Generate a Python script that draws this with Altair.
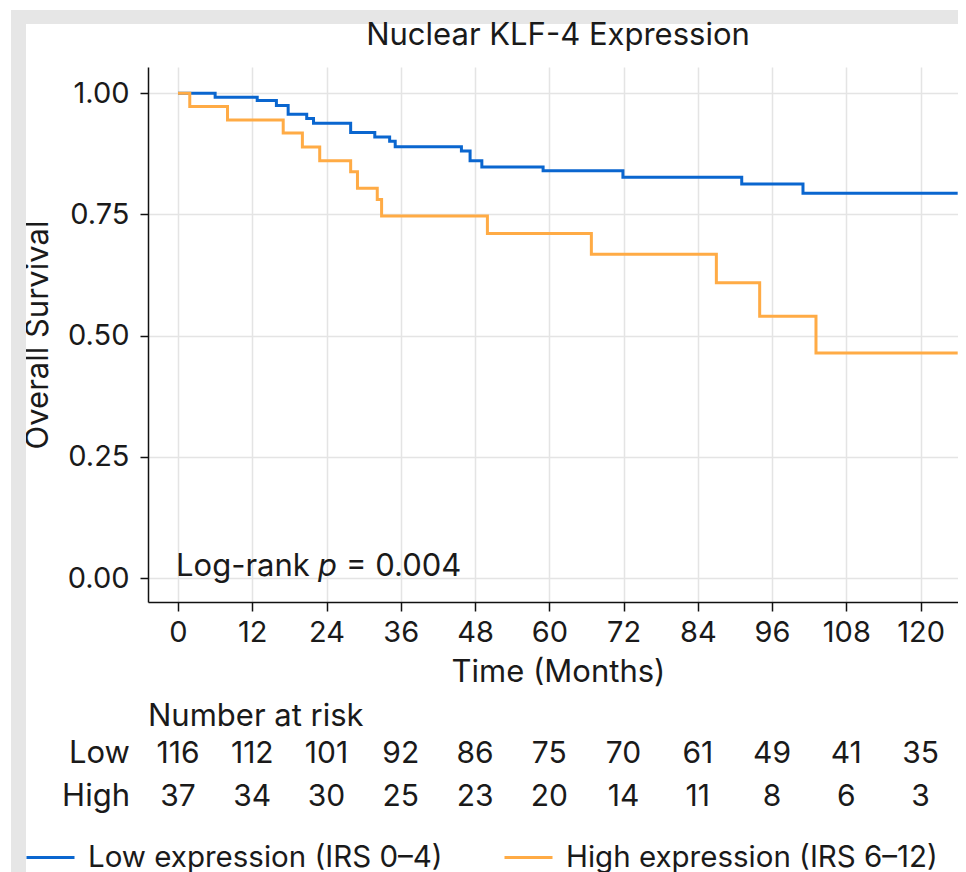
import altair as alt
import pandas as pd

# ---------------- data ----------------
low_label = "Low expression (IRS 0–4)"
high_label = "High expression (IRS 6–12)"

low_time = [0, 6.0, 12.8, 15.9, 17.8, 20.8, 21.9, 27.9, 31.8, 34.2, 35.1, 45.8, 47.2, 49.1, 59.0, 71.9, 91.1, 101.0, 126.0]
low_surv = [1.0, 0.992, 0.985, 0.975, 0.957, 0.948, 0.938, 0.919, 0.910, 0.901, 0.890, 0.881, 0.861, 0.848, 0.840, 0.827, 0.813, 0.794, 0.794]

high_time = [0, 1.9, 8.0, 17.0, 20.1, 22.9, 27.9, 29.0, 32.2, 32.9, 50.0, 66.8, 87.0, 94.0, 103.1, 126.0]
high_surv = [1.0, 0.973, 0.945, 0.918, 0.889, 0.861, 0.838, 0.804, 0.781, 0.747, 0.711, 0.668, 0.609, 0.540, 0.464, 0.464]

risk_time = [0, 12, 24, 36, 48, 60, 72, 84, 96, 108, 120]
risk_low = [116, 112, 101, 92, 86, 75, 70, 61, 49, 41, 35]
risk_high = [37, 34, 30, 25, 23, 20, 14, 11, 8, 6, 3]

y_ticks = [0, 0.25, 0.5, 0.75, 1.0]
title_text = "Nuclear KLF-4 Expression"
p_value = "0.004"

# ---------------- style ----------------
FONT = "Inter"
FS = 31
TICK_FS = 29
TXT = "#1a1a1a"
BLUE = "#0a66cf"
ORANGE = "#ffab45"
W, H = 810, 535

low_df = pd.DataFrame({"time": low_time, "surv": low_surv, "group": low_label})
high_df = pd.DataFrame({"time": high_time, "surv": high_surv, "group": high_label})
risk_low_df = pd.DataFrame({"time": risk_time, "n": risk_low})
risk_high_df = pd.DataFrame({"time": risk_time, "n": risk_high})
one = alt.Data(values=[{"a": 1}])

xscale = alt.Scale(domain=[-4.85, 126.05], nice=False, zero=False)
yscale = alt.Scale(domain=[-0.0495, 1.0543], nice=False, zero=False)

xaxis = alt.Axis(values=risk_time, title="Time (Months)", grid=True, gridColor="#e4e4e4", gridWidth=1.5,
                 domainColor="#111", domainWidth=1.5, tickColor="#111", tickWidth=1.5, tickSize=9,
                 labelPadding=7, labelFont=FONT, labelFontSize=TICK_FS, labelColor=TXT,
                 titleFont=FONT, titleFontSize=FS, titleFontWeight="normal", titleColor=TXT,
                 titleX=410, titleY=70, titleBaseline="middle", labelFlush=False)
yaxis = alt.Axis(values=y_ticks, format=".2f", title="Overall Survival", grid=True, gridColor="#e4e4e4", gridWidth=1.5,
                 domainColor="#111", domainWidth=1.5, tickColor="#111", tickWidth=1.5, tickSize=8,
                 labelPadding=11, labelFont=FONT, labelFontSize=TICK_FS, labelColor=TXT,
                 titleFont=FONT, titleFontSize=FS, titleFontWeight="normal", titleColor=TXT,
                 titleX=-110, titleY=H / 2, titleBaseline="middle", labelFlush=False)

color = alt.Color("group:N",
                  scale=alt.Scale(domain=[low_label, high_label], range=[BLUE, ORANGE]),
                  legend=alt.Legend(title=None, orient="none", direction="horizontal",
                                    legendX=-123, legendY=765, symbolType="stroke",
                                    symbolSize=2304, symbolStrokeWidth=3, labelOffset=12,
                                    columnPadding=55, padding=0,
                                    labelFont=FONT, labelFontSize=29.5, labelColor=TXT, labelLimit=0))

band_top = alt.Chart(one).mark_rect(color="#e6e6e6").encode(
    x=alt.value(-137), x2=alt.value(W), y=alt.value(-57), y2=alt.value(-43))
band_left = alt.Chart(one).mark_rect(color="#e6e6e6").encode(
    x=alt.value(-137), x2=alt.value(-122), y=alt.value(-57), y2=alt.value(805))

title = alt.Chart(one).mark_text(text=title_text, align="center", baseline="middle",
                                 font=FONT, fontSize=FS, color=TXT).encode(
    x=alt.value(410), y=alt.value(-31))

line_low = alt.Chart(low_df).mark_line(interpolate="step-after", strokeWidth=3).encode(
    x=alt.X("time:Q", scale=xscale, axis=xaxis),
    y=alt.Y("surv:Q", scale=yscale, axis=yaxis),
    color=color)
line_high = alt.Chart(high_df).mark_line(interpolate="step-after", strokeWidth=3).encode(
    x=alt.X("time:Q", scale=xscale),
    y=alt.Y("surv:Q", scale=yscale),
    color=color)

ann = pd.DataFrame({"time": [0], "surv": [0]})
tx = dict(font=FONT, fontSize=FS, color=TXT, align="left", baseline="alphabetic", dy=-2)
lr1 = alt.Chart(ann).mark_text(text="Log-rank", dx=-2, **tx).encode(x="time:Q", y="surv:Q")
lr2 = alt.Chart(ann).mark_text(text="p", dx=140, fontStyle="italic", **tx).encode(x="time:Q", y="surv:Q")
lr3 = alt.Chart(ann).mark_text(text="= " + p_value, dx=168, **tx).encode(x="time:Q", y="surv:Q")

rt = dict(font=FONT, fontSize=FS, color=TXT, baseline="middle")
risk_l = alt.Chart(risk_low_df).mark_text(align="center", font=FONT, fontSize=30, color=TXT,
                                          baseline="middle").encode(
    x="time:Q", y=alt.value(687), text="n:Q")
risk_h = alt.Chart(risk_high_df).mark_text(align="center", font=FONT, fontSize=30, color=TXT,
                                           baseline="middle").encode(
    x="time:Q", y=alt.value(730), text="n:Q")
hdr = alt.Chart(one).mark_text(text="Number at risk", align="left", **rt).encode(
    x=alt.value(0), y=alt.value(650))
lab_l = alt.Chart(one).mark_text(text="Low", align="right", **rt).encode(
    x=alt.value(-18), y=alt.value(687))
lab_h = alt.Chart(one).mark_text(text="High", align="right", **rt).encode(
    x=alt.value(-18), y=alt.value(730))

chart = alt.layer(
    band_top, band_left, title, line_low, line_high, lr1, lr2, lr3,
    risk_l, risk_h, hdr, lab_l, lab_h
).properties(
    width=W, height=H,
    autosize=alt.AutoSizeParams(type="none"),
    padding={"left": 140, "top": 59, "right": 0, "bottom": 270},
    background="white",
).configure_view(stroke=None)

chart.save("out.html", embed_options={"renderer": "svg", "actions": False})
